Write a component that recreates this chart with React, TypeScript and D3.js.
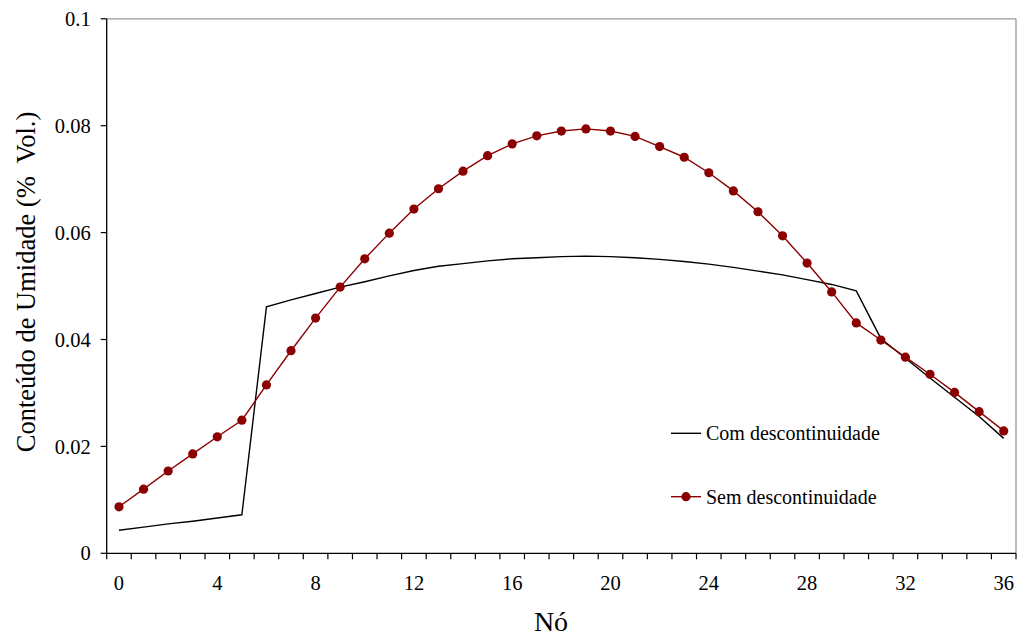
import React from "react";
import * as d3 from "d3";

const nodes: number[] = d3.range(0, 37);
const semDescontinuidade: number[] = [
  0.0087, 0.012, 0.0154, 0.0186, 0.0218, 0.0249, 0.0315, 0.0379, 0.044, 0.0498,
  0.0551, 0.0599, 0.0644, 0.0682, 0.0715, 0.0744, 0.0766, 0.0781, 0.079, 0.0794,
  0.079, 0.078, 0.0761, 0.0741, 0.0712, 0.0678, 0.0639, 0.0594, 0.0543, 0.0489,
  0.0431, 0.0399, 0.0367, 0.0335, 0.0301, 0.0265, 0.0229,
];
const comDescontinuidade: number[] = [
  0.0043, 0.0049, 0.0055, 0.006, 0.0066, 0.0072, 0.0461, 0.0474, 0.0486, 0.0498,
  0.0508, 0.0519, 0.0529, 0.0537, 0.0542, 0.0547, 0.0551, 0.0553, 0.0555, 0.0556,
  0.0555, 0.0553, 0.0550, 0.0546, 0.0541, 0.0535, 0.0528, 0.0521, 0.0512, 0.0503,
  0.0491, 0.0402, 0.0365, 0.0328, 0.0292, 0.0256, 0.0215,
];
const yTicks: number[] = [0, 0.02, 0.04, 0.06, 0.08, 0.1];
const xLabelEvery = 4;
const seriesNames = ["Com descontinuidade", "Sem descontinuidade"];
const xTitle = "Nó";
const yTitle = "Conteúdo de Umidade (%  Vol.)";

const W = 1018;
const H = 635;
const left = 106.7;
const right = 1016;
const top = 18.8;
const bottom = 553.3;
const font = "Liberation Serif, DejaVu Serif, serif";
const red = "#8B0000";

export default function App() {
  const x = d3.scaleBand<number>().domain(nodes).range([left, right]).padding(0);
  const cx = (i: number) => (x(i) as number) + x.bandwidth() / 2;
  const y = d3.scaleLinear().domain([0, 0.1]).range([bottom, top]);
  const line = d3
    .line<number>()
    .x((_, i) => cx(nodes[i]))
    .y((d) => y(d));
  const boundaries = [...nodes.map((n) => x(n) as number), right];
  const ts = { fontFamily: font };

  return (
    <svg
      width={W}
      height={H}
      style={{ position: "absolute", left: 0, top: 0, background: "#fff", fontFamily: font }}
    >
      <rect x={0} y={0} width={W} height={H} fill="#fff" />
      <line x1={left} x2={right} y1={top} y2={top} stroke="#999" strokeWidth={1.3} />
      <line x1={right} x2={right} y1={top} y2={bottom} stroke="#999" strokeWidth={1.3} />
      <line x1={left} x2={left} y1={top} y2={bottom} stroke="#000" strokeWidth={1.3} />
      <line x1={left} x2={right} y1={bottom} y2={bottom} stroke="#000" strokeWidth={1.3} />
      {yTicks.map((t) => (
        <g key={t}>
          <line x1={left - 6} x2={left} y1={y(t)} y2={y(t)} stroke="#000" strokeWidth={1.2} />
          <text x={left - 16} y={y(t)} dy="0.35em" textAnchor="end" fontSize={20.5} style={ts}>
            {String(t)}
          </text>
        </g>
      ))}
      {boundaries.map((b, i) => (
        <line key={i} x1={b} x2={b} y1={bottom} y2={bottom + 6} stroke="#000" strokeWidth={1.2} />
      ))}
      {nodes
        .filter((n) => n % xLabelEvery === 0)
        .map((n) => (
          <text key={n} x={cx(n)} y={590} textAnchor="middle" fontSize={20.5} style={ts}>
            {n}
          </text>
        ))}
      <text x={551} y={630.5} textAnchor="middle" fontSize={28} style={ts}>
        {xTitle}
      </text>
      <text
        transform={`translate(35, 282) rotate(-90)`}
        textAnchor="middle"
        fontSize={26.5}
        style={{ fontFamily: font, whiteSpace: "pre" }}
      >
        {yTitle}
      </text>
      <path d={line(comDescontinuidade) || ""} fill="none" stroke="#000" strokeWidth={1.4} />
      <path d={line(semDescontinuidade) || ""} fill="none" stroke={red} strokeWidth={1.4} />
      {semDescontinuidade.map((v, i) => (
        <circle key={i} cx={cx(nodes[i])} cy={y(v)} r={4.6} fill={red} />
      ))}
      <line x1={671} x2={701} y1={433.3} y2={433.3} stroke="#000" strokeWidth={1.4} />
      <text x={706} y={433.3} dy="0.35em" fontSize={20} style={ts}>
        {seriesNames[0]}
      </text>
      <line x1={671} x2={701} y1={496.7} y2={496.7} stroke={red} strokeWidth={1.4} />
      <circle cx={686} cy={496.7} r={4.6} fill={red} />
      <text x={706} y={496.7} dy="0.35em" fontSize={20} style={ts}>
        {seriesNames[1]}
      </text>
    </svg>
  );
}
